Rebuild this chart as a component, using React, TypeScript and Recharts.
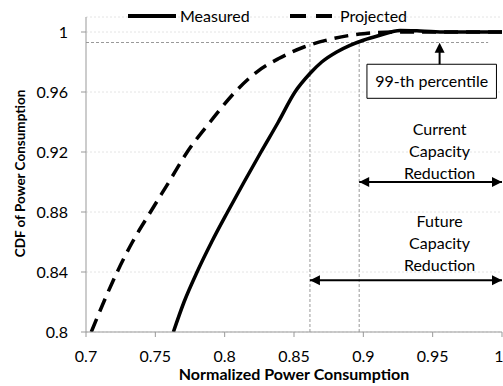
import React from 'react';
import {
  LineChart, Line, XAxis, YAxis, CartesianGrid, Legend,
  ReferenceLine, ReferenceArea, ReferenceDot,
} from 'recharts';

const measuredX = [0.763, 0.7707, 0.7801, 0.7906, 0.8021, 0.814, 0.8262, 0.8387, 0.8507, 0.8615, 0.87, 0.8808, 0.8904, 0.9, 0.912, 0.9265, 0.941, 0.96, 1.0];
const measuredY = [0.8, 0.82, 0.84, 0.86, 0.88, 0.9, 0.92, 0.94, 0.96, 0.9723, 0.98, 0.9867, 0.9911, 0.9945, 0.9978, 1.001, 1.0007, 1.0, 1.0];

const projectedX = [0.7038, 0.7128, 0.7225, 0.7335, 0.7465, 0.7598, 0.773, 0.7895, 0.8075, 0.8231, 0.839, 0.8572, 0.8783, 0.9, 0.925, 1.0];
const projectedY = [0.8, 0.82, 0.84, 0.86, 0.88, 0.9, 0.92, 0.94, 0.96, 0.9733, 0.9823, 0.99, 0.9956, 0.9989, 1.0, 1.0];

const xTicks = [0.7, 0.75, 0.8, 0.85, 0.9, 0.95, 1];
const yTicks = [0.8, 0.84, 0.88, 0.92, 0.96, 1];

// annotation values (data coords)
const p99 = 0.993;
const currentCut = 0.897;
const futureCut = 0.8615;
const currentArrowY = 0.9;
const futureArrowY = 0.8345;
const noteX = 0.955;

const measured = measuredX.map((x, i) => ({ x, y: measuredY[i] }));
const projected = projectedX.map((x, i) => ({ x, y: projectedY[i] }));

const FONT = 'Lato, "Open Sans", sans-serif';

const arrowHead = (dir: 'left' | 'right' | 'up') => (props: any) => {
  const { cx, cy } = props;
  let pts = '';
  if (dir === 'left') pts = `${cx},${cy} ${cx + 10},${cy - 5} ${cx + 10},${cy + 5}`;
  if (dir === 'right') pts = `${cx},${cy} ${cx - 10},${cy - 5} ${cx - 10},${cy + 5}`;
  if (dir === 'up') pts = `${cx},${cy} ${cx - 5},${cy + 10} ${cx + 5},${cy + 10}`;
  return <polygon points={pts} fill="#000" />;
};

const multiText = (lines: string[]) => (props: any) => {
  const { cx, cy } = props;
  return (
    <text x={cx} y={cy} textAnchor="middle" fontFamily={FONT} fontSize={16} fill="#000">
      {lines.map((l, i) => (
        <tspan key={i} x={cx} dy={i === 0 ? '0.35em' : 22}>{l}</tspan>
      ))}
    </text>
  );
};

const YLabel = (props: any) => {
  const { viewBox } = props;
  const cx = 20;
  const cy = viewBox.y + viewBox.height / 2 - 1;
  return (
    <text x={cx} y={cy} transform={`rotate(-90, ${cx}, ${cy})`} textAnchor="middle" dominantBaseline="central"
      fontFamily={FONT} fontSize={13.5} fontWeight={700} fill="#000">
      CDF of Power Consumption
    </text>
  );
};

const LegendContent = () => (
  <div style={{ height: 0, overflow: 'visible', position: 'relative' }}>
    <svg width={503} height={24} style={{ position: 'absolute', left: 0, top: 0 }}>
      <line x1={128} y1={12} x2={176} y2={12} stroke="#000" strokeWidth={4} />
      <text x={180} y={12} dy="0.35em" fontFamily={FONT} fontSize={16}>Measured</text>
      <line x1={290} y1={12} x2={334} y2={12} stroke="#000" strokeWidth={4} strokeDasharray="16 10" />
      <text x={340} y={12} dy="0.35em" fontFamily={FONT} fontSize={16}>Projected</text>
    </svg>
  </div>
);

export default function App() {
  return (
    <div style={{ position: 'absolute', left: 0, top: 0, width: 503, height: 386, background: '#fff' }}>
      <LineChart width={503} height={386} margin={{ top: 17, right: 1, bottom: 4, left: 8 }}>
        <CartesianGrid horizontal vertical={false} stroke="#e4e4e4" strokeDasharray="2 2" />
        <XAxis
          type="number"
          dataKey="x"
          domain={[0.7, 1]}
          ticks={xTicks}
          allowDataOverflow
          height={50}
          stroke="#999"
          tickSize={5}
          tickMargin={14}
          tick={{ fill: '#000', fontFamily: FONT, fontSize: 16 }}
          label={{ value: 'Normalized Power Consumption', position: 'insideBottom', offset: 2, fill: '#000', fontFamily: FONT, fontSize: 16, fontWeight: 700 }}
        />
        <YAxis
          type="number"
          domain={[0.8, 1.01]}
          ticks={yTicks}
          allowDataOverflow
          width={78}
          stroke="#999"
          tickSize={5}
          tickMargin={13}
          tick={{ fill: '#000', fontFamily: FONT, fontSize: 16 }}
          label={<YLabel />}
        />
        <Legend verticalAlign="top" content={LegendContent} wrapperStyle={{ top: 4, left: 0 }} />

        <ReferenceLine segment={[{ x: 0.7, y: p99 }, { x: 0.99, y: p99 }]} stroke="#999" strokeDasharray="3 2" />
        <ReferenceLine segment={[{ x: futureCut, y: 0.8 }, { x: futureCut, y: p99 }]} stroke="#999" strokeDasharray="3 2" />
        <ReferenceLine segment={[{ x: currentCut, y: 0.8 }, { x: currentCut, y: p99 }]} stroke="#999" strokeDasharray="3 2" />

        <Line data={projected} dataKey="y" name="Projected" type="monotone" stroke="#000" strokeWidth={3.5}
          strokeDasharray="14 8" dot={false} isAnimationActive={false} />
        <Line data={measured} dataKey="y" name="Measured" type="monotone" stroke="#000" strokeWidth={3.5}
          dot={false} isAnimationActive={false} />

        <ReferenceArea x1={0.9026} x2={0.996} y1={0.9558} y2={0.9785} fill="#fff" fillOpacity={1} stroke="#000" strokeWidth={1}
          label={{ value: '99-th percentile', position: 'center', fill: '#000', fontFamily: FONT, fontSize: 16 }} />
        <ReferenceLine segment={[{ x: noteX, y: 0.9785 }, { x: noteX, y: 0.99 }]} stroke="#000" strokeWidth={2} />
        <ReferenceDot x={noteX} y={p99 - 0.0002} shape={arrowHead('up')} />

        <ReferenceLine segment={[{ x: currentCut, y: currentArrowY }, { x: 1, y: currentArrowY }]} stroke="#000" strokeWidth={2} />
        <ReferenceDot x={currentCut} y={currentArrowY} shape={arrowHead('left')} />
        <ReferenceDot x={1} y={currentArrowY} shape={arrowHead('right')} />

        <ReferenceLine segment={[{ x: futureCut, y: futureArrowY }, { x: 1, y: futureArrowY }]} stroke="#000" strokeWidth={2} />
        <ReferenceDot x={futureCut} y={futureArrowY} shape={arrowHead('left')} />
        <ReferenceDot x={1} y={futureArrowY} shape={arrowHead('right')} />

        <ReferenceDot x={noteX} y={0.9353} shape={multiText(['Current', 'Capacity', 'Reduction'])} />
        <ReferenceDot x={noteX} y={0.8738} shape={multiText(['Future', 'Capacity', 'Reduction'])} />
      </LineChart>
    </div>
  );
}
